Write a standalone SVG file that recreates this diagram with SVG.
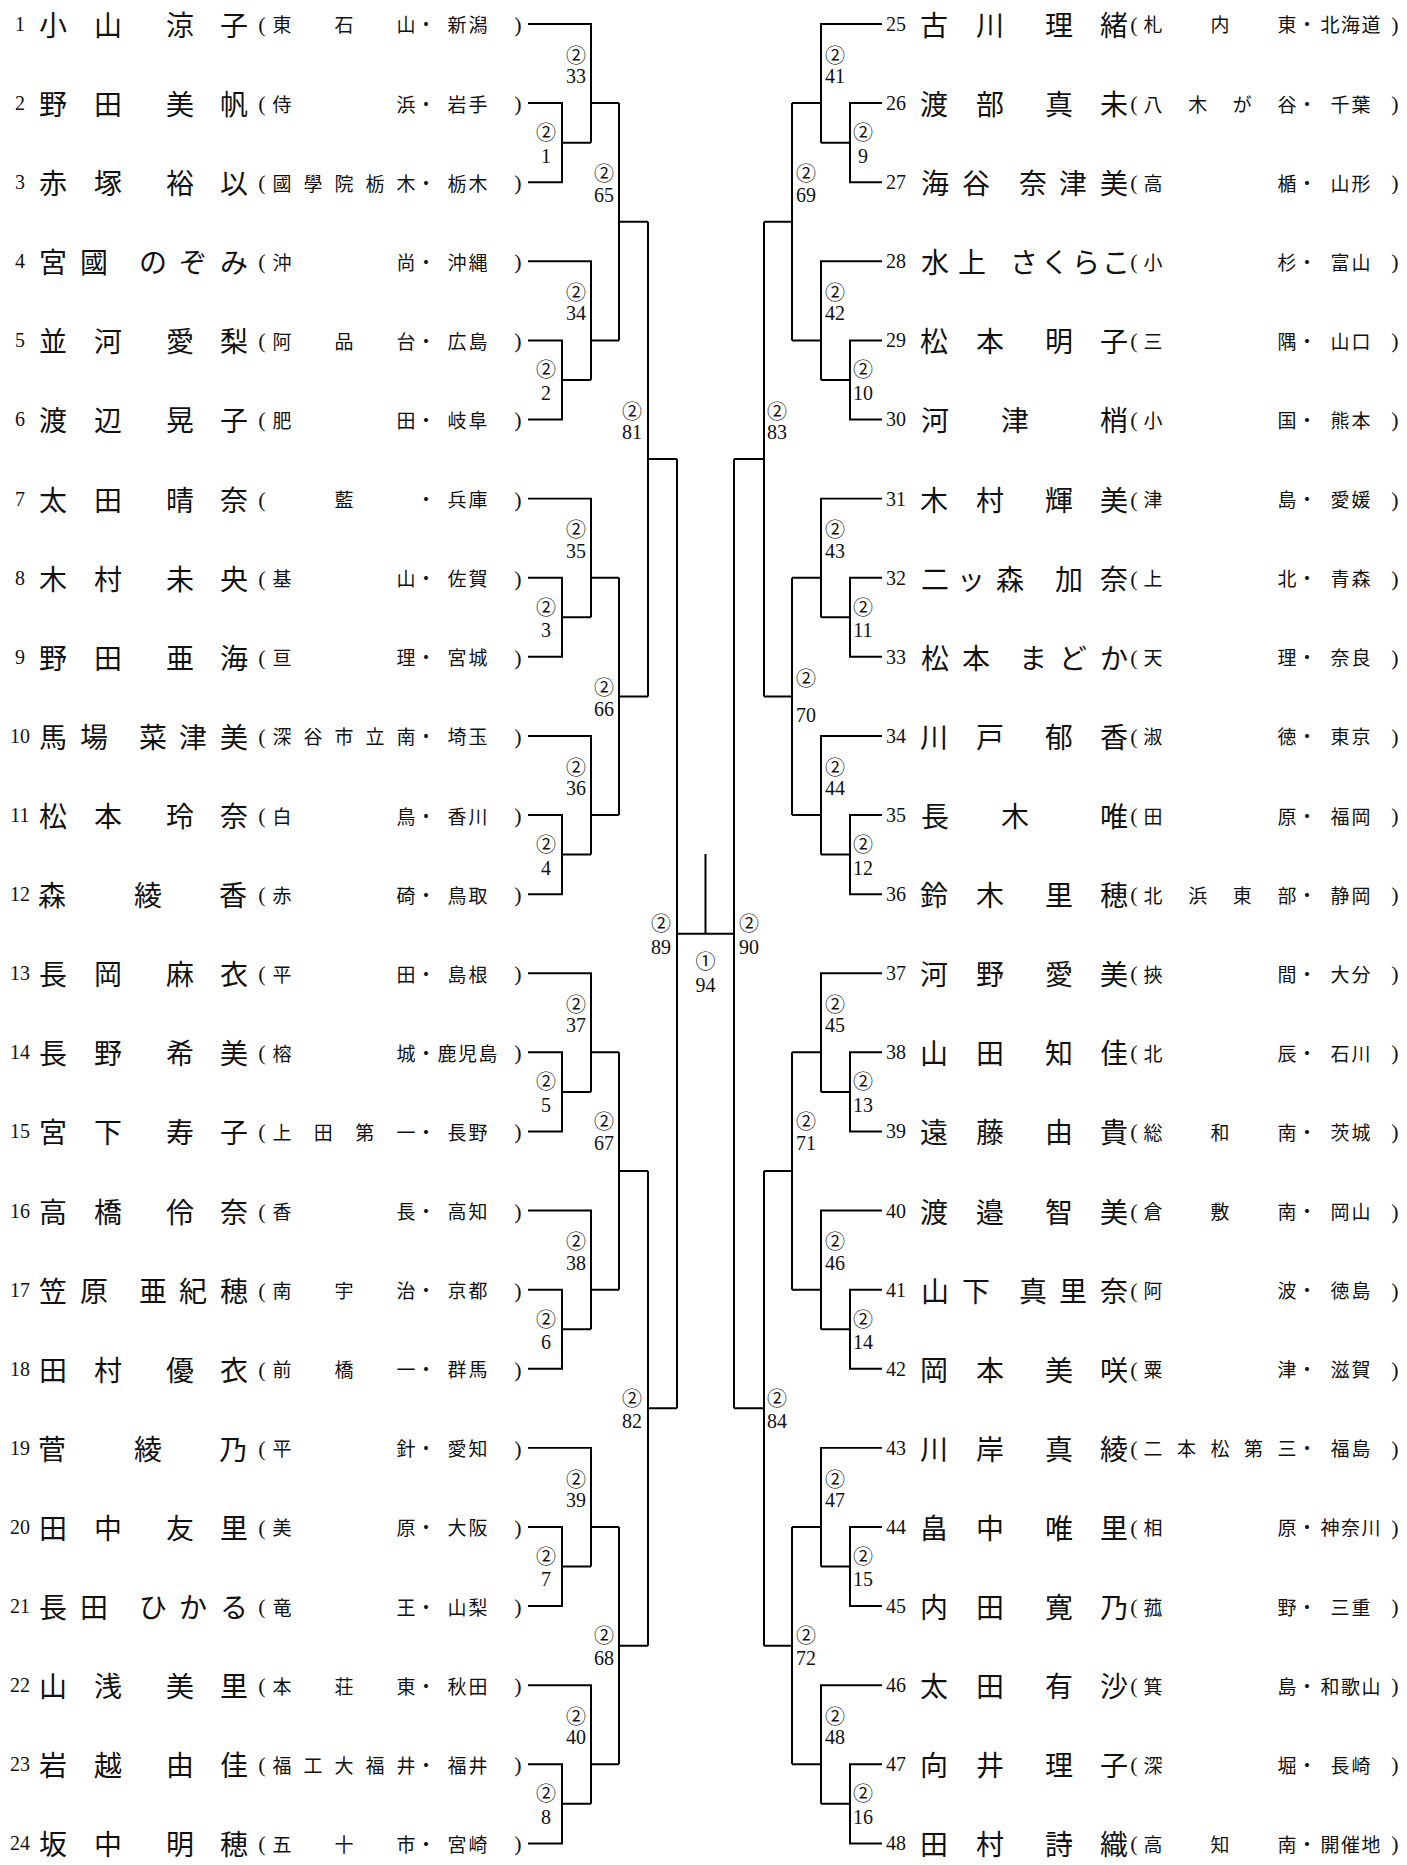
<svg xmlns="http://www.w3.org/2000/svg" width="1407" height="1865" viewBox="0 0 1407 1865">
<style>
.nm{font-family:"Noto Sans CJK JP",sans-serif;font-size:28px;text-anchor:middle;dominant-baseline:central;fill:#111}
.sc{font-family:"Noto Sans CJK JP",sans-serif;font-size:19px;text-anchor:middle;dominant-baseline:central;fill:#111}
.pr{font-family:"Liberation Serif",serif;font-size:22px}
.no{font-family:"Liberation Serif",serif;font-size:20px;text-anchor:middle;dominant-baseline:central;fill:#111}
.c2{font-family:"Noto Sans CJK JP",sans-serif;font-size:20px;text-anchor:middle;dominant-baseline:central;fill:#111}
.ln{font-family:"Liberation Serif",serif;font-size:20px;text-anchor:middle;dominant-baseline:central;fill:#111}
.cn{fill:none;stroke:#000;stroke-width:2}
</style>
<rect width="1407" height="1865" fill="#fff"/>
<g id="bracket" transform="matrix(1 0 0 0.99753 0 -0.94)">
<g id="connectors" class="cn">
<path d="M528 25H591V143.95M528 104.3H562V183.6H528M562 143.95H591M591 104.3H619"/>
<path d="M528 262.9H591V381.85M528 342.2H562V421.5H528M562 381.85H591M591 342.2H619"/>
<path d="M528 500.8H591V619.75M528 580.1H562V659.4H528M562 619.75H591M591 580.1H619"/>
<path d="M528 738.7H591V857.65M528 818H562V897.3H528M562 857.65H591M591 818H619"/>
<path d="M528 976.6H591V1095.55M528 1055.9H562V1135.2H528M562 1095.55H591M591 1055.9H619"/>
<path d="M528 1214.5H591V1333.45M528 1293.8H562V1373.1H528M562 1333.45H591M591 1293.8H619"/>
<path d="M528 1452.4H591V1571.35M528 1531.7H562V1611H528M562 1571.35H591M591 1531.7H619"/>
<path d="M528 1690.3H591V1809.25M528 1769.6H562V1848.9H528M562 1809.25H591M591 1769.6H619"/>
<path d="M619 104.3V342.2M619 223.25H648M619 580.1V818M619 699.05H648M619 1055.9V1293.8M619 1174.85H648M619 1531.7V1769.6M619 1650.65H648"/>
<path d="M648 223.25V699.05M648 461.15H677M648 1174.85V1650.65M648 1412.75H677"/>
<path d="M677 461.15V1412.75"/>
<path d="M882 25H821V143.95M882 104.3H850V183.6H882M850 143.95H821M821 104.3H792"/>
<path d="M882 262.9H821V381.85M882 342.2H850V421.5H882M850 381.85H821M821 342.2H792"/>
<path d="M882 500.8H821V619.75M882 580.1H850V659.4H882M850 619.75H821M821 580.1H792"/>
<path d="M882 738.7H821V857.65M882 818H850V897.3H882M850 857.65H821M821 818H792"/>
<path d="M882 976.6H821V1095.55M882 1055.9H850V1135.2H882M850 1095.55H821M821 1055.9H792"/>
<path d="M882 1214.5H821V1333.45M882 1293.8H850V1373.1H882M850 1333.45H821M821 1293.8H792"/>
<path d="M882 1452.4H821V1571.35M882 1531.7H850V1611H882M850 1571.35H821M821 1531.7H792"/>
<path d="M882 1690.3H821V1809.25M882 1769.6H850V1848.9H882M850 1809.25H821M821 1769.6H792"/>
<path d="M792 104.3V342.2M792 223.25H764M792 580.1V818M792 699.05H764M792 1055.9V1293.8M792 1174.85H764M792 1531.7V1769.6M792 1650.65H764"/>
<path d="M764 223.25V699.05M764 461.15H734M764 1174.85V1650.65M764 1412.75H734"/>
<path d="M734 461.15V1412.75"/>
<path d="M677 936.95H734M705.5 857V936.95"/>
</g>
<g id="match-labels">
<text class="c2" x="546" y="132.95">②</text><text class="ln" x="546" y="156.95">1</text>
<text class="c2" x="546" y="370.85">②</text><text class="ln" x="546" y="394.85">2</text>
<text class="c2" x="546" y="608.75">②</text><text class="ln" x="546" y="632.75">3</text>
<text class="c2" x="546" y="846.65">②</text><text class="ln" x="546" y="870.65">4</text>
<text class="c2" x="546" y="1084.55">②</text><text class="ln" x="546" y="1108.55">5</text>
<text class="c2" x="546" y="1322.45">②</text><text class="ln" x="546" y="1346.45">6</text>
<text class="c2" x="546" y="1560.35">②</text><text class="ln" x="546" y="1584.35">7</text>
<text class="c2" x="546" y="1798.25">②</text><text class="ln" x="546" y="1822.25">8</text>
<text class="c2" x="576" y="55.3">②</text><text class="ln" x="576" y="77.3">33</text>
<text class="c2" x="576" y="293.2">②</text><text class="ln" x="576" y="315.2">34</text>
<text class="c2" x="576" y="531.1">②</text><text class="ln" x="576" y="553.1">35</text>
<text class="c2" x="576" y="769">②</text><text class="ln" x="576" y="791">36</text>
<text class="c2" x="576" y="1006.9">②</text><text class="ln" x="576" y="1028.9">37</text>
<text class="c2" x="576" y="1244.8">②</text><text class="ln" x="576" y="1266.8">38</text>
<text class="c2" x="576" y="1482.7">②</text><text class="ln" x="576" y="1504.7">39</text>
<text class="c2" x="576" y="1720.6">②</text><text class="ln" x="576" y="1742.6">40</text>
<text class="c2" x="604" y="174.25">②</text><text class="ln" x="604" y="196.25">65</text>
<text class="c2" x="604" y="689">②</text><text class="ln" x="604" y="712">66</text>
<text class="c2" x="604" y="1123.85">②</text><text class="ln" x="604" y="1146.85">67</text>
<text class="c2" x="604" y="1639.65">②</text><text class="ln" x="604" y="1662.65">68</text>
<text class="c2" x="632" y="412.15">②</text><text class="ln" x="632" y="434.15">81</text>
<text class="c2" x="632" y="1401.75">②</text><text class="ln" x="632" y="1425.75">82</text>
<text class="c2" x="661" y="926">②</text><text class="ln" x="661" y="950">89</text>
<text class="c2" x="705.5" y="964">①</text><text class="ln" x="705.5" y="988">94</text>
<text class="c2" x="749" y="926">②</text><text class="ln" x="749" y="950">90</text>
<text class="c2" x="777" y="412.15">②</text><text class="ln" x="777" y="434.15">83</text>
<text class="c2" x="777" y="1401.75">②</text><text class="ln" x="777" y="1425.75">84</text>
<text class="c2" x="806" y="174.25">②</text><text class="ln" x="806" y="196.25">69</text>
<text class="c2" x="806" y="680">②</text><text class="ln" x="806" y="718">70</text>
<text class="c2" x="806" y="1123.85">②</text><text class="ln" x="806" y="1146.85">71</text>
<text class="c2" x="806" y="1639.65">②</text><text class="ln" x="806" y="1662.65">72</text>
<text class="c2" x="835" y="55.3">②</text><text class="ln" x="835" y="77.3">41</text>
<text class="c2" x="835" y="293.2">②</text><text class="ln" x="835" y="315.2">42</text>
<text class="c2" x="835" y="531.1">②</text><text class="ln" x="835" y="553.1">43</text>
<text class="c2" x="835" y="769">②</text><text class="ln" x="835" y="791">44</text>
<text class="c2" x="835" y="1006.9">②</text><text class="ln" x="835" y="1028.9">45</text>
<text class="c2" x="835" y="1244.8">②</text><text class="ln" x="835" y="1266.8">46</text>
<text class="c2" x="835" y="1482.7">②</text><text class="ln" x="835" y="1504.7">47</text>
<text class="c2" x="835" y="1720.6">②</text><text class="ln" x="835" y="1742.6">48</text>
<text class="c2" x="863" y="132.95">②</text><text class="ln" x="863" y="156.95">9</text>
<text class="c2" x="863" y="370.85">②</text><text class="ln" x="863" y="394.85">10</text>
<text class="c2" x="863" y="608.75">②</text><text class="ln" x="863" y="632.75">11</text>
<text class="c2" x="863" y="846.65">②</text><text class="ln" x="863" y="870.65">12</text>
<text class="c2" x="863" y="1084.55">②</text><text class="ln" x="863" y="1108.55">13</text>
<text class="c2" x="863" y="1322.45">②</text><text class="ln" x="863" y="1346.45">14</text>
<text class="c2" x="863" y="1560.35">②</text><text class="ln" x="863" y="1584.35">15</text>
<text class="c2" x="863" y="1798.25">②</text><text class="ln" x="863" y="1822.25">16</text>
</g>
<g id="p1"><text class="no" x="20" y="25">1</text><text class="nm" x="53 108 180 234" y="25">小山涼子</text><text class="sc" x="262 282 344 406 426 457 478 518" y="25"><tspan class="pr">(</tspan>東石山・新潟<tspan class="pr">)</tspan></text></g>
<g id="p2"><text class="no" x="20" y="104.3">2</text><text class="nm" x="53 108 180 234" y="104.3">野田美帆</text><text class="sc" x="262 282 406 426 457 478 518" y="104.3"><tspan class="pr">(</tspan>侍浜・岩手<tspan class="pr">)</tspan></text></g>
<g id="p3"><text class="no" x="20" y="183.6">3</text><text class="nm" x="53 108 180 234" y="183.6">赤塚裕以</text><text class="sc" x="262 282 313 344 375 406 426 457 478 518" y="183.6"><tspan class="pr">(</tspan>國學院栃木・栃木<tspan class="pr">)</tspan></text></g>
<g id="p4"><text class="no" x="20" y="262.9">4</text><text class="nm" x="53 94 153 193 234" y="262.9">宮國のぞみ</text><text class="sc" x="262 282 406 426 457 478 518" y="262.9"><tspan class="pr">(</tspan>沖尚・沖縄<tspan class="pr">)</tspan></text></g>
<g id="p5"><text class="no" x="20" y="342.2">5</text><text class="nm" x="53 108 180 234" y="342.2">並河愛梨</text><text class="sc" x="262 282 344 406 426 457 478 518" y="342.2"><tspan class="pr">(</tspan>阿品台・広島<tspan class="pr">)</tspan></text></g>
<g id="p6"><text class="no" x="20" y="421.5">6</text><text class="nm" x="53 108 180 234" y="421.5">渡辺晃子</text><text class="sc" x="262 282 406 426 457 478 518" y="421.5"><tspan class="pr">(</tspan>肥田・岐阜<tspan class="pr">)</tspan></text></g>
<g id="p7"><text class="no" x="20" y="500.8">7</text><text class="nm" x="53 108 180 234" y="500.8">太田晴奈</text><text class="sc" x="262 344 426 457 478 518" y="500.8"><tspan class="pr">(</tspan>藍・兵庫<tspan class="pr">)</tspan></text></g>
<g id="p8"><text class="no" x="20" y="580.1">8</text><text class="nm" x="53 108 180 234" y="580.1">木村未央</text><text class="sc" x="262 282 406 426 457 478 518" y="580.1"><tspan class="pr">(</tspan>基山・佐賀<tspan class="pr">)</tspan></text></g>
<g id="p9"><text class="no" x="20" y="659.4">9</text><text class="nm" x="53 108 180 234" y="659.4">野田亜海</text><text class="sc" x="262 282 406 426 457 478 518" y="659.4"><tspan class="pr">(</tspan>亘理・宮城<tspan class="pr">)</tspan></text></g>
<g id="p10"><text class="no" x="20" y="738.7">10</text><text class="nm" x="53 94 153 193 234" y="738.7">馬場菜津美</text><text class="sc" x="262 282 313 344 375 406 426 457 478 518" y="738.7"><tspan class="pr">(</tspan>深谷市立南・埼玉<tspan class="pr">)</tspan></text></g>
<g id="p11"><text class="no" x="20" y="818">11</text><text class="nm" x="53 108 180 234" y="818">松本玲奈</text><text class="sc" x="262 282 406 426 457 478 518" y="818"><tspan class="pr">(</tspan>白鳥・香川<tspan class="pr">)</tspan></text></g>
<g id="p12"><text class="no" x="20" y="897.3">12</text><text class="nm" x="52 148 233" y="897.3">森綾香</text><text class="sc" x="262 282 406 426 457 478 518" y="897.3"><tspan class="pr">(</tspan>赤碕・鳥取<tspan class="pr">)</tspan></text></g>
<g id="p13"><text class="no" x="20" y="976.6">13</text><text class="nm" x="53 108 180 234" y="976.6">長岡麻衣</text><text class="sc" x="262 282 406 426 457 478 518" y="976.6"><tspan class="pr">(</tspan>平田・島根<tspan class="pr">)</tspan></text></g>
<g id="p14"><text class="no" x="20" y="1055.9">14</text><text class="nm" x="53 108 180 234" y="1055.9">長野希美</text><text class="sc" x="262 282 406 426 447 467.5 488 518" y="1055.9"><tspan class="pr">(</tspan>榕城・鹿児島<tspan class="pr">)</tspan></text></g>
<g id="p15"><text class="no" x="20" y="1135.2">15</text><text class="nm" x="53 108 180 234" y="1135.2">宮下寿子</text><text class="sc" x="262 282 323.3 364.7 406 426 457 478 518" y="1135.2"><tspan class="pr">(</tspan>上田第一・長野<tspan class="pr">)</tspan></text></g>
<g id="p16"><text class="no" x="20" y="1214.5">16</text><text class="nm" x="53 108 180 234" y="1214.5">高橋伶奈</text><text class="sc" x="262 282 406 426 457 478 518" y="1214.5"><tspan class="pr">(</tspan>香長・高知<tspan class="pr">)</tspan></text></g>
<g id="p17"><text class="no" x="20" y="1293.8">17</text><text class="nm" x="53 94 153 193 234" y="1293.8">笠原亜紀穂</text><text class="sc" x="262 282 344 406 426 457 478 518" y="1293.8"><tspan class="pr">(</tspan>南宇治・京都<tspan class="pr">)</tspan></text></g>
<g id="p18"><text class="no" x="20" y="1373.1">18</text><text class="nm" x="53 108 180 234" y="1373.1">田村優衣</text><text class="sc" x="262 282 344 406 426 457 478 518" y="1373.1"><tspan class="pr">(</tspan>前橋一・群馬<tspan class="pr">)</tspan></text></g>
<g id="p19"><text class="no" x="20" y="1452.4">19</text><text class="nm" x="52 148 233" y="1452.4">菅綾乃</text><text class="sc" x="262 282 406 426 457 478 518" y="1452.4"><tspan class="pr">(</tspan>平針・愛知<tspan class="pr">)</tspan></text></g>
<g id="p20"><text class="no" x="20" y="1531.7">20</text><text class="nm" x="53 108 180 234" y="1531.7">田中友里</text><text class="sc" x="262 282 406 426 457 478 518" y="1531.7"><tspan class="pr">(</tspan>美原・大阪<tspan class="pr">)</tspan></text></g>
<g id="p21"><text class="no" x="20" y="1611">21</text><text class="nm" x="53 94 153 193 234" y="1611">長田ひかる</text><text class="sc" x="262 282 406 426 457 478 518" y="1611"><tspan class="pr">(</tspan>竜王・山梨<tspan class="pr">)</tspan></text></g>
<g id="p22"><text class="no" x="20" y="1690.3">22</text><text class="nm" x="53 108 180 234" y="1690.3">山浅美里</text><text class="sc" x="262 282 344 406 426 457 478 518" y="1690.3"><tspan class="pr">(</tspan>本荘東・秋田<tspan class="pr">)</tspan></text></g>
<g id="p23"><text class="no" x="20" y="1769.6">23</text><text class="nm" x="53 108 180 234" y="1769.6">岩越由佳</text><text class="sc" x="262 282 313 344 375 406 426 457 478 518" y="1769.6"><tspan class="pr">(</tspan>福工大福井・福井<tspan class="pr">)</tspan></text></g>
<g id="p24"><text class="no" x="20" y="1848.9">24</text><text class="nm" x="53 108 180 234" y="1848.9">坂中明穂</text><text class="sc" x="262 282 344 406 426 457 478 518" y="1848.9"><tspan class="pr">(</tspan>五十市・宮崎<tspan class="pr">)</tspan></text></g>
<g id="p25"><text class="no" x="896" y="25">25</text><text class="nm" x="934 990 1059 1114" y="25">古川理緒</text><text class="sc" x="1134 1153 1220 1287 1307 1330 1350.5 1371 1395" y="25"><tspan class="pr">(</tspan>札内東・北海道<tspan class="pr">)</tspan></text></g>
<g id="p26"><text class="no" x="896" y="104.3">26</text><text class="nm" x="934 990 1059 1114" y="104.3">渡部真未</text><text class="sc" x="1134 1153 1197.7 1242.3 1287 1307 1340 1361 1395" y="104.3"><tspan class="pr">(</tspan>八木が谷・千葉<tspan class="pr">)</tspan></text></g>
<g id="p27"><text class="no" x="896" y="183.6">27</text><text class="nm" x="935 976 1033 1073 1114" y="183.6">海谷奈津美</text><text class="sc" x="1134 1153 1287 1307 1340 1361 1395" y="183.6"><tspan class="pr">(</tspan>高楯・山形<tspan class="pr">)</tspan></text></g>
<g id="p28"><text class="no" x="896" y="262.9">28</text><text class="nm" x="935 972 1024 1055 1086 1116" y="262.9">水上さくらこ</text><text class="sc" x="1134 1153 1287 1307 1340 1361 1395" y="262.9"><tspan class="pr">(</tspan>小杉・富山<tspan class="pr">)</tspan></text></g>
<g id="p29"><text class="no" x="896" y="342.2">29</text><text class="nm" x="934 990 1059 1114" y="342.2">松本明子</text><text class="sc" x="1134 1153 1287 1307 1340 1361 1395" y="342.2"><tspan class="pr">(</tspan>三隅・山口<tspan class="pr">)</tspan></text></g>
<g id="p30"><text class="no" x="896" y="421.5">30</text><text class="nm" x="935 1015 1114" y="421.5">河津梢</text><text class="sc" x="1134 1153 1287 1307 1340 1361 1395" y="421.5"><tspan class="pr">(</tspan>小国・熊本<tspan class="pr">)</tspan></text></g>
<g id="p31"><text class="no" x="896" y="500.8">31</text><text class="nm" x="934 990 1059 1114" y="500.8">木村輝美</text><text class="sc" x="1134 1153 1287 1307 1340 1361 1395" y="500.8"><tspan class="pr">(</tspan>津島・愛媛<tspan class="pr">)</tspan></text></g>
<g id="p32"><text class="no" x="896" y="580.1">32</text><text class="nm" x="935 971 1010 1069 1114" y="580.1">二ッ森加奈</text><text class="sc" x="1134 1153 1287 1307 1340 1361 1395" y="580.1"><tspan class="pr">(</tspan>上北・青森<tspan class="pr">)</tspan></text></g>
<g id="p33"><text class="no" x="896" y="659.4">33</text><text class="nm" x="935 976 1033 1073 1114" y="659.4">松本まどか</text><text class="sc" x="1134 1153 1287 1307 1340 1361 1395" y="659.4"><tspan class="pr">(</tspan>天理・奈良<tspan class="pr">)</tspan></text></g>
<g id="p34"><text class="no" x="896" y="738.7">34</text><text class="nm" x="934 990 1059 1114" y="738.7">川戸郁香</text><text class="sc" x="1134 1153 1287 1307 1340 1361 1395" y="738.7"><tspan class="pr">(</tspan>淑徳・東京<tspan class="pr">)</tspan></text></g>
<g id="p35"><text class="no" x="896" y="818">35</text><text class="nm" x="935 1015 1114" y="818">長木唯</text><text class="sc" x="1134 1153 1287 1307 1340 1361 1395" y="818"><tspan class="pr">(</tspan>田原・福岡<tspan class="pr">)</tspan></text></g>
<g id="p36"><text class="no" x="896" y="897.3">36</text><text class="nm" x="934 990 1059 1114" y="897.3">鈴木里穂</text><text class="sc" x="1134 1153 1197.7 1242.3 1287 1307 1340 1361 1395" y="897.3"><tspan class="pr">(</tspan>北浜東部・静岡<tspan class="pr">)</tspan></text></g>
<g id="p37"><text class="no" x="896" y="976.6">37</text><text class="nm" x="934 990 1059 1114" y="976.6">河野愛美</text><text class="sc" x="1134 1153 1287 1307 1340 1361 1395" y="976.6"><tspan class="pr">(</tspan>挾間・大分<tspan class="pr">)</tspan></text></g>
<g id="p38"><text class="no" x="896" y="1055.9">38</text><text class="nm" x="934 990 1059 1114" y="1055.9">山田知佳</text><text class="sc" x="1134 1153 1287 1307 1340 1361 1395" y="1055.9"><tspan class="pr">(</tspan>北辰・石川<tspan class="pr">)</tspan></text></g>
<g id="p39"><text class="no" x="896" y="1135.2">39</text><text class="nm" x="934 990 1059 1114" y="1135.2">遠藤由貴</text><text class="sc" x="1134 1153 1220 1287 1307 1340 1361 1395" y="1135.2"><tspan class="pr">(</tspan>総和南・茨城<tspan class="pr">)</tspan></text></g>
<g id="p40"><text class="no" x="896" y="1214.5">40</text><text class="nm" x="934 990 1059 1114" y="1214.5">渡邉智美</text><text class="sc" x="1134 1153 1220 1287 1307 1340 1361 1395" y="1214.5"><tspan class="pr">(</tspan>倉敷南・岡山<tspan class="pr">)</tspan></text></g>
<g id="p41"><text class="no" x="896" y="1293.8">41</text><text class="nm" x="935 976 1033 1073 1114" y="1293.8">山下真里奈</text><text class="sc" x="1134 1153 1287 1307 1340 1361 1395" y="1293.8"><tspan class="pr">(</tspan>阿波・徳島<tspan class="pr">)</tspan></text></g>
<g id="p42"><text class="no" x="896" y="1373.1">42</text><text class="nm" x="934 990 1059 1114" y="1373.1">岡本美咲</text><text class="sc" x="1134 1153 1287 1307 1340 1361 1395" y="1373.1"><tspan class="pr">(</tspan>粟津・滋賀<tspan class="pr">)</tspan></text></g>
<g id="p43"><text class="no" x="896" y="1452.4">43</text><text class="nm" x="934 990 1059 1114" y="1452.4">川岸真綾</text><text class="sc" x="1134 1153 1186.5 1220 1253.5 1287 1307 1340 1361 1395" y="1452.4"><tspan class="pr">(</tspan>二本松第三・福島<tspan class="pr">)</tspan></text></g>
<g id="p44"><text class="no" x="896" y="1531.7">44</text><text class="nm" x="934 990 1059 1114" y="1531.7">畠中唯里</text><text class="sc" x="1134 1153 1287 1307 1330 1350.5 1371 1395" y="1531.7"><tspan class="pr">(</tspan>相原・神奈川<tspan class="pr">)</tspan></text></g>
<g id="p45"><text class="no" x="896" y="1611">45</text><text class="nm" x="934 990 1059 1114" y="1611">内田寛乃</text><text class="sc" x="1134 1153 1287 1307 1340 1361 1395" y="1611"><tspan class="pr">(</tspan>菰野・三重<tspan class="pr">)</tspan></text></g>
<g id="p46"><text class="no" x="896" y="1690.3">46</text><text class="nm" x="934 990 1059 1114" y="1690.3">太田有沙</text><text class="sc" x="1134 1153 1287 1307 1330 1350.5 1371 1395" y="1690.3"><tspan class="pr">(</tspan>箕島・和歌山<tspan class="pr">)</tspan></text></g>
<g id="p47"><text class="no" x="896" y="1769.6">47</text><text class="nm" x="934 990 1059 1114" y="1769.6">向井理子</text><text class="sc" x="1134 1153 1287 1307 1340 1361 1395" y="1769.6"><tspan class="pr">(</tspan>深堀・長崎<tspan class="pr">)</tspan></text></g>
<g id="p48"><text class="no" x="896" y="1848.9">48</text><text class="nm" x="934 990 1059 1114" y="1848.9">田村詩織</text><text class="sc" x="1134 1153 1220 1287 1307 1330 1350.5 1371 1395" y="1848.9"><tspan class="pr">(</tspan>高知南・開催地<tspan class="pr">)</tspan></text></g>
</g>
</svg>
